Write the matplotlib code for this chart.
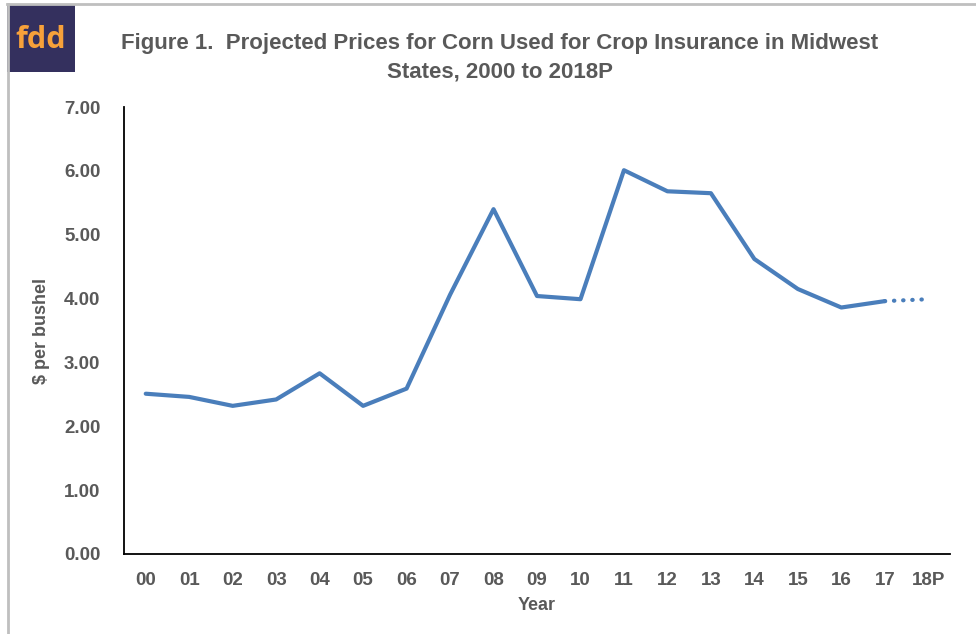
import matplotlib
matplotlib.use("Agg")
import matplotlib.pyplot as plt
from matplotlib.patches import Rectangle
from matplotlib.lines import Line2D

years = ["00", "01", "02", "03", "04", "05", "06", "07", "08", "09",
         "10", "11", "12", "13", "14", "15", "16", "17", "18P"]
prices = [2.51, 2.46, 2.32, 2.42, 2.83, 2.32, 2.59, 4.06, 5.40, 4.04,
          3.99, 6.01, 5.68, 5.65, 4.62, 4.15, 3.86, 3.96, 3.99]
yticks = [0, 1, 2, 3, 4, 5, 6, 7]

plt.rcParams['font.family'] = ['Liberation Sans', 'DejaVu Sans']
gray = '#595959'
blue = '#4A7EBB'

fig = plt.figure(figsize=(9.76, 6.34), dpi=100)
ax = fig.add_axes([124/976, 80/634, 826/976, 447/634])

x = list(range(len(years)))
ax.plot(x[:18], prices[:18], color=blue, lw=3.0, solid_capstyle='round', solid_joinstyle='round')
ax.plot(x[17:], prices[17:], color=blue, lw=3.0, linestyle=(0, (0.1, 2.1)), dash_capstyle='round')

ax.set_xlim(-0.5, len(years) - 0.5)
ax.set_ylim(0, 7)
ax.set_xticks(x)
ax.set_xticklabels(years)
ax.set_yticks(yticks)
ax.set_yticklabels([f"{v:.2f}" for v in yticks])
ax.tick_params(axis='both', length=0, labelsize=13.5, labelcolor=gray)
ax.tick_params(axis='x', pad=13)
ax.tick_params(axis='y', pad=17)
for lab in ax.get_xticklabels() + ax.get_yticklabels():
    lab.set_fontweight('bold')
for s in ['top', 'right']:
    ax.spines[s].set_visible(False)
for s in ['left', 'bottom']:
    ax.spines[s].set_color('black')
    ax.spines[s].set_linewidth(1.3)

ax.set_xlabel("Year", fontsize=13, fontweight='bold', color=gray, labelpad=6)
ax.set_ylabel("$ per bushel", fontsize=13, fontweight='bold', color=gray, labelpad=10)

fig.text(500/976, 1 - 43/634, "Figure 1.  Projected Prices for Corn Used for Crop Insurance in Midwest",
         ha='center', va='center', fontsize=16, fontweight='bold', color=gray)
fig.text(500/976, 1 - 72/634, "States, 2000 to 2018P",
         ha='center', va='center', fontsize=16, fontweight='bold', color=gray)

# border lines
fig.add_artist(Line2D([7/976, 1], [1 - 4/634, 1 - 4/634], color='#BFBFBF', lw=2, transform=fig.transFigure))
fig.add_artist(Line2D([7.5/976, 7.5/976], [0, 1 - 4/634], color='#BFBFBF', lw=2, transform=fig.transFigure))

# logo
fig.add_artist(Rectangle((7/976, 1 - 72/634), 68/976, 67/634, transform=fig.transFigure,
                         facecolor='#34305E', edgecolor='none'))
fig.text(41/976, 1 - 40/634, "fdd", ha='center', va='center', fontsize=22, fontweight='bold',
         color='#F7A13A', family=['Open Sans', 'DejaVu Sans'])

fig.savefig("out.png", dpi=100)
